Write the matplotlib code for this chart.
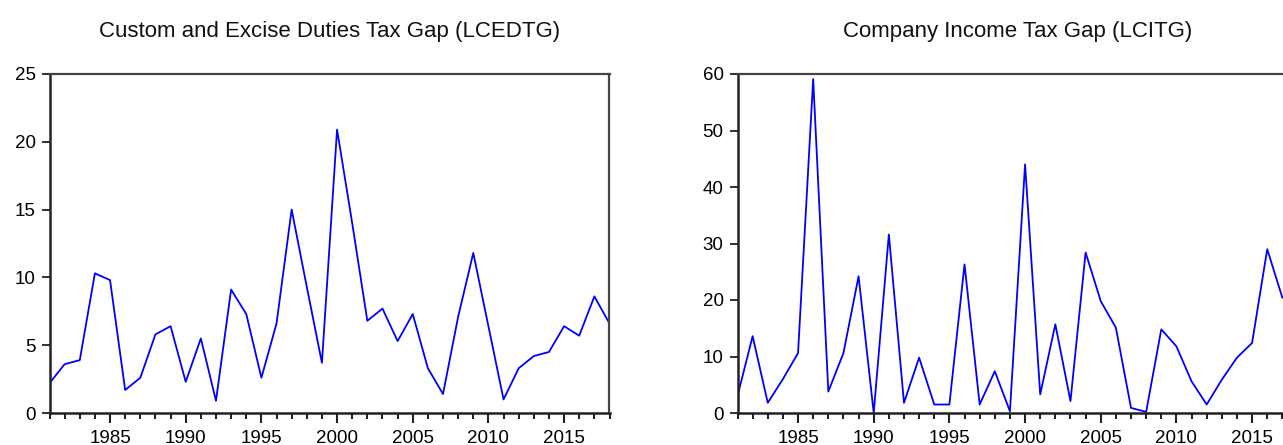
import matplotlib.pyplot as plt
from matplotlib.ticker import MultipleLocator

# Años de la serie
years = list(range(1981, 2019))

# Brecha de aranceles e impuestos especiales (LCEDTG)
lcedtg = [2.2, 3.6, 3.9, 10.3, 9.8, 1.7, 2.6, 5.8, 6.4, 2.3,
          5.5, 0.9, 9.1, 7.3, 2.6, 6.6, 15.0, 9.3, 3.7, 20.9,
          14.0, 6.8, 7.7, 5.3, 7.3, 3.3, 1.4, 7.1, 11.8, 6.4,
          1.0, 3.3, 4.2, 4.5, 6.4, 5.7, 8.6, 6.6]

# Brecha del impuesto sobre sociedades (LCITG)
lcitg = [3.0, 13.6, 1.8, 6.0, 10.6, 59.1, 3.8, 10.6, 24.2, 0.0,
         31.6, 1.8, 9.8, 1.5, 1.5, 26.3, 1.5, 7.4, 0.3, 44.0,
         3.3, 15.7, 2.1, 28.4, 19.8, 15.1, 0.9, 0.2, 14.8, 11.8,
         5.6, 1.5, 5.9, 9.8, 12.4, 29.0, 20.4, 22.5]

titles = ['Custom and Excise Duties Tax Gap (LCEDTG)', 'Company Income Tax Gap (LCITG)']
y_max = [25, 60]
y_step = [5, 10]

plt.rcParams['font.family'] = ['Liberation Sans', 'DejaVu Sans']

fig = plt.figure(figsize=(12.83, 4.45), dpi=100)
ax1 = fig.add_axes([49.5 / 1283, 32 / 445, 560 / 1283, 339 / 445])
ax2 = fig.add_axes([737.5 / 1283, 32 / 445, 560 / 1283, 339 / 445])

for ax, serie, titulo, ymax, paso in zip([ax1, ax2], [lcedtg, lcitg], titles, y_max, y_step):
    ax.plot(years, serie, color='#0000ff', linewidth=1.3)
    ax.set_xlim(1981, 2018)
    ax.set_ylim(0, ymax)
    ax.xaxis.set_major_locator(MultipleLocator(5))
    ax.xaxis.set_minor_locator(MultipleLocator(1))
    ax.yaxis.set_major_locator(MultipleLocator(paso))
    ax.tick_params(axis='x', which='major', length=7, width=1.5, labelsize=13.5, pad=5, color='#222222')
    ax.tick_params(axis='x', which='minor', length=4, width=1.5, color='#222222')
    ax.tick_params(axis='y', length=6, width=1.3, labelsize=13.5, pad=4, color='#222222')
    for lado in ['left', 'bottom']:
        ax.spines[lado].set_linewidth(1.8)
        ax.spines[lado].set_color('#222222')
    for lado in ['top', 'right']:
        ax.spines[lado].set_linewidth(1.6)
        ax.spines[lado].set_color('#444444')
    ax.set_title(titulo, fontsize=16, pad=27, color='#111111')

fig.savefig('out.png', dpi=100)
